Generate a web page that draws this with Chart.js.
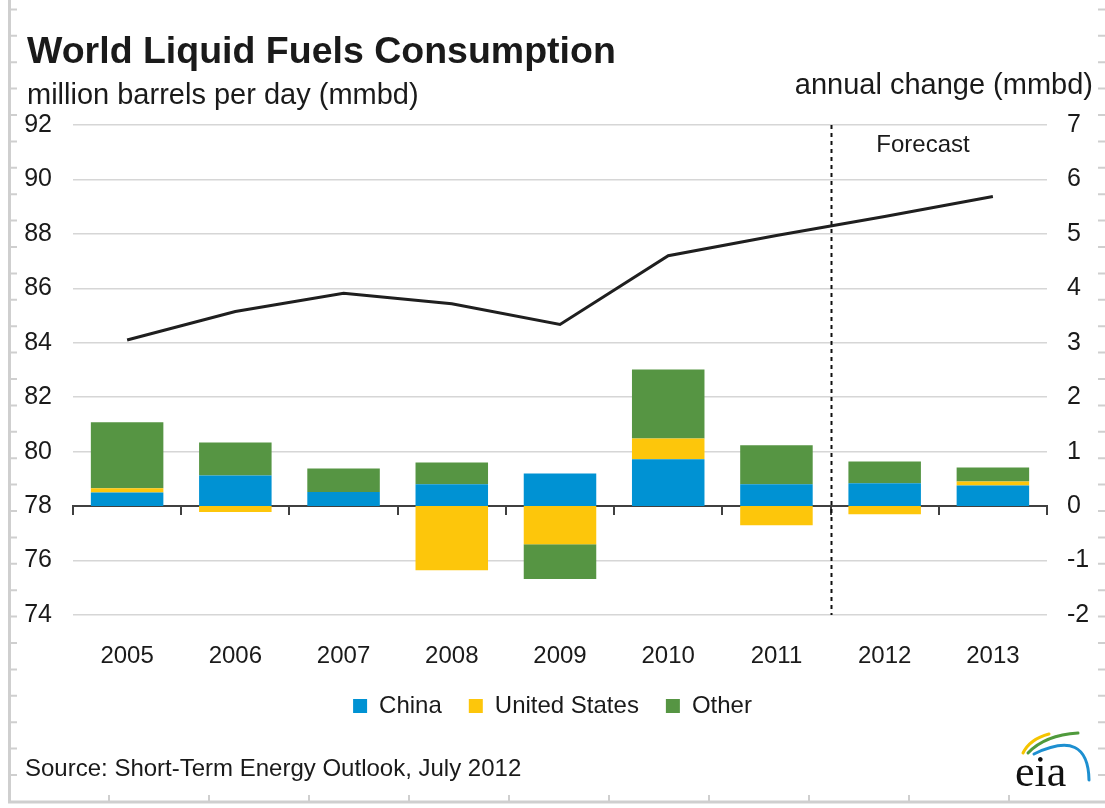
<!DOCTYPE html>
<html>
<head>
<meta charset="utf-8">
<title>World Liquid Fuels Consumption</title>
<script src="https://cdn.jsdelivr.net/npm/chart.js@4.4.0/dist/chart.umd.min.js"></script>
<style>
  html, body { margin: 0; padding: 0; background: #fff; }
  #wrap { width: 1105px; height: 808px; }
</style>
</head>
<body>
<div id="wrap"><canvas id="chart" width="1105" height="808"></canvas></div>
<script>
// data (STEO July 2012)
const years = ['2005', '2006', '2007', '2008', '2009', '2010', '2011', '2012', '2013'];
const worldConsumption = [84.1, 85.15, 85.82, 85.43, 84.67, 87.2, 87.94, 88.64, 89.37]; // mmbd, left axis
const chinaChange = [0.25, 0.56, 0.26, 0.40, 0.60, 0.86, 0.40, 0.42, 0.38];  // annual change, right axis
const usChange = [0.08, -0.11, 0, -1.18, -0.70, 0.38, -0.35, -0.15, 0.07];
const otherChange = [1.21, 0.61, 0.43, 0.40, -0.64, 1.27, 0.72, 0.40, 0.26];
const leftTicks = [74, 92, 2];   // min, max, step
const rightTicks = [-2, 7, 1];
const forecastAfter = 6;  // index of last historical year (2011)

const FONT = '"Liberation Sans", Arial, sans-serif';
const INK = '#1a1a1a';
Chart.defaults.font.family = FONT;
Chart.defaults.color = INK;

// titles, forecast divider, source line, page frame, logo
const decor = {
  id: 'decor',
  beforeDatasetsDraw(chart) {
    const { ctx, chartArea, scales } = chart;
    const x = (scales.x.getPixelForValue(forecastAfter) + scales.x.getPixelForValue(forecastAfter + 1)) / 2;
    ctx.save();
    ctx.strokeStyle = '#111';
    ctx.lineWidth = 2;
    ctx.setLineDash([4, 4]);
    ctx.beginPath();
    ctx.moveTo(Math.round(x) + 0.5, chartArea.top);
    ctx.lineTo(Math.round(x) + 0.5, chartArea.bottom);
    ctx.stroke();
    ctx.restore();
  },
  afterDraw(chart) {
    const { ctx } = chart;
    ctx.save();

    // sheet frame with little ruler ticks
    ctx.strokeStyle = '#cfcfcf';
    ctx.lineWidth = 3;
    ctx.beginPath();
    ctx.moveTo(9.5, 0); ctx.lineTo(9.5, 802); ctx.lineTo(1105, 802);
    ctx.stroke();
    ctx.lineWidth = 2;
    ctx.beginPath();
    for (let y = 9.4; y < 800; y += 26.4) {
      ctx.moveTo(10, y); ctx.lineTo(17, y);
      ctx.moveTo(1098, y); ctx.lineTo(1105, y);
    }
    for (let x = 109; x < 1100; x += 100) {
      ctx.moveTo(x, 802); ctx.lineTo(x, 795);
    }
    ctx.stroke();

    // texts
    ctx.fillStyle = INK;
    ctx.textBaseline = 'alphabetic';
    ctx.textAlign = 'left';
    ctx.font = 'bold 37.5px ' + FONT;
    ctx.fillText('World Liquid Fuels Consumption', 27, 63);
    ctx.font = '29px ' + FONT;
    ctx.fillText('million barrels per day (mmbd)', 27, 104);
    ctx.textAlign = 'right';
    ctx.fillText('annual change (mmbd)', 1093, 94);
    ctx.textAlign = 'center';
    ctx.font = '24px ' + FONT;
    ctx.fillText('Forecast', 923, 152);
    ctx.textAlign = 'left';
    ctx.fillText('Source: Short-Term Energy Outlook, July 2012', 25, 776);

    // eia logo
    ctx.lineCap = 'round';
    ctx.lineWidth = 3;
    ctx.strokeStyle = '#f5c400';
    ctx.beginPath(); ctx.moveTo(1023, 753); ctx.quadraticCurveTo(1030, 739, 1049, 734); ctx.stroke();
    ctx.strokeStyle = '#4f9a3c';
    ctx.beginPath(); ctx.moveTo(1028, 753); ctx.quadraticCurveTo(1045, 735, 1078, 733); ctx.stroke();
    ctx.strokeStyle = '#1d8fd0';
    ctx.beginPath(); ctx.moveTo(1034, 754); ctx.quadraticCurveTo(1088, 728, 1089, 780); ctx.stroke();
    ctx.fillStyle = '#111';
    ctx.font = '44px "Liberation Serif", "DejaVu Serif", serif';
    ctx.fillText('eia', 1015, 786);
    ctx.restore();
  }
};

new Chart(document.getElementById('chart'), {
  type: 'bar',
  data: {
    labels: years,
    datasets: [
      { label: 'China', data: chinaChange, backgroundColor: '#0092d3', xAxisID: 'x', yAxisID: 'yR', order: 1 },
      { label: 'United States', data: usChange, backgroundColor: '#fdc60b', xAxisID: 'x', yAxisID: 'yR', order: 1 },
      { label: 'Other', data: otherChange, backgroundColor: '#569543', xAxisID: 'x', yAxisID: 'yR', order: 1 },
      {
        type: 'line', label: 'World', data: worldConsumption, xAxisID: 'x', yAxisID: 'yL', order: 0,
        borderColor: '#1f1f1f', borderWidth: 3, pointRadius: 0, tension: 0, fill: false
      }
    ]
  },
  options: {
    responsive: false,
    animation: false,
    layout: { padding: { top: 125, left: 0, right: 0, bottom: 80 } },
    datasets: { bar: { categoryPercentage: 1, barPercentage: 0.67, borderWidth: 0 } },
    plugins: {
      tooltip: { enabled: false },
      title: { display: false },
      legend: {
        position: 'bottom',
        labels: {
          font: { size: 24 }, color: INK, boxWidth: 14, boxHeight: 14, padding: 27,
          filter: item => item.datasetIndex < 3
        }
      }
    },
    scales: {
      x: {
        type: 'category', position: 'bottom', stacked: true, offset: true,
        grid: { display: false }, border: { display: false },
        ticks: { font: { size: 24 }, color: INK, padding: 19, maxRotation: 0 },
        afterFit: s => { s.height = 52; }
      },
      xZero: {
        type: 'category', position: { yR: 0 }, offset: true,
        grid: { display: true, drawOnChartArea: false, drawTicks: true, tickLength: 8, color: '#404040', lineWidth: 2, offset: true },
        border: { display: true, color: '#404040', width: 2 },
        ticks: { display: false }
      },
      yL: {
        type: 'linear', position: 'left', min: leftTicks[0], max: leftTicks[1],
        ticks: { stepSize: leftTicks[2], font: { size: 25 }, color: INK, padding: 21 },
        grid: { color: '#d6d6d6', lineWidth: 1.5, drawTicks: false },
        border: { display: false },
        afterFit: s => { s.width = 73; }
      },
      yR: {
        type: 'linear', position: 'right', stacked: true, min: rightTicks[0], max: rightTicks[1],
        ticks: { stepSize: rightTicks[2], font: { size: 25 }, color: INK, padding: 20 },
        grid: { display: false, drawTicks: false },
        border: { display: false },
        afterFit: s => { s.width = 58; }
      }
    }
  },
  plugins: [decor]
});
</script>
</body>
</html>
